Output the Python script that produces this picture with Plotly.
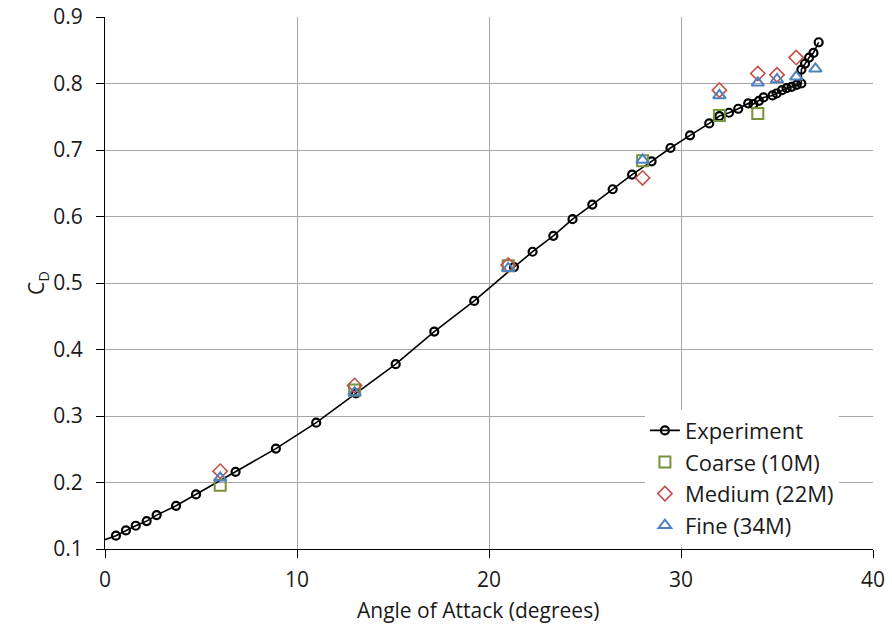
import plotly.graph_objects as go

# Experiment data; the curve starts at AoA 0 (no marker there)
curve_start_aoa = [0.0]
curve_start_cd = [0.114]
exp_aoa = [0.57, 1.09, 1.6, 2.17, 2.69, 3.7, 4.74, 6.8, 8.9, 11.0, 13.07, 15.14, 17.15,
           19.23, 21.3, 22.27, 23.35, 24.35, 25.38, 26.44, 27.45, 28.47, 29.45, 30.47,
           31.47, 32.0, 32.5, 32.98, 33.5, 33.77, 34.06, 34.3, 34.77, 34.98, 35.26,
           35.5, 35.76, 36.02, 36.27, 36.27, 36.46, 36.67, 36.9, 37.17]
exp_cd = [0.12, 0.128, 0.135, 0.142, 0.151, 0.165, 0.182, 0.216, 0.251, 0.29, 0.334,
          0.378, 0.427, 0.473, 0.524, 0.547, 0.571, 0.596, 0.618, 0.641, 0.663, 0.683,
          0.703, 0.722, 0.740, 0.751, 0.756, 0.762, 0.770, 0.769, 0.774, 0.779, 0.782,
          0.785, 0.790, 0.793, 0.795, 0.798, 0.800, 0.821, 0.830, 0.839, 0.846, 0.862]

coarse_aoa = [6, 13, 21, 28, 32, 34]
coarse_cd = [0.196, 0.339, 0.526, 0.684, 0.752, 0.755]

medium_aoa = [6, 13, 21, 28, 32, 34, 35, 36]
medium_cd = [0.217, 0.346, 0.527, 0.658, 0.790, 0.815, 0.813, 0.839]

fine_aoa = [6, 13, 21, 28, 32, 34, 35, 36, 37]
fine_cd = [0.207, 0.335, 0.522, 0.685, 0.782, 0.801, 0.806, 0.810, 0.822]

x_ticks = [0, 10, 20, 30, 40]
y_ticks = [0.1, 0.2, 0.3, 0.4, 0.5, 0.6, 0.7, 0.8, 0.9]

FONT = "Open Sans"
TXT = "#1a1a1a"

fig = go.Figure()
fig.add_trace(go.Scatter(
    x=curve_start_aoa + exp_aoa[:1], y=curve_start_cd + exp_cd[:1], mode="lines",
    line=dict(color="black", width=1.6), showlegend=False, hoverinfo="skip",
))
fig.add_trace(go.Scatter(
    x=exp_aoa, y=exp_cd, mode="lines+markers", name="Experiment",
    line=dict(color="black", width=1.6),
    marker=dict(symbol="circle-open", size=8, color="black", line=dict(width=2.2)),
))
fig.add_trace(go.Scatter(
    x=coarse_aoa, y=coarse_cd, mode="markers", name="Coarse (10M)",
    marker=dict(symbol="square-open", size=11, color="#77933C", line=dict(width=2)),
))
fig.add_trace(go.Scatter(
    x=medium_aoa, y=medium_cd, mode="markers", name="Medium (22M)",
    marker=dict(symbol="diamond-open", size=11, color="#C0504D", line=dict(width=1.6)),
))
fig.add_trace(go.Scatter(
    x=fine_aoa, y=fine_cd, mode="markers", name="Fine (34M)",
    marker=dict(symbol="triangle-up-open", size=11, color="#4F81BD", line=dict(width=2)),
))

fig.update_layout(
    width=892, height=630,
    margin=dict(l=105, r=19, t=17, b=81, autoexpand=False),
    paper_bgcolor="white", plot_bgcolor="white",
    font=dict(family=FONT, size=20, color=TXT),
    showlegend=True,
    legend=dict(
        x=0.703, y=0.262, xanchor="left", yanchor="top",
        bgcolor="white", borderwidth=0,
        font=dict(family=FONT, size=22, color=TXT),
        tracegroupgap=0, itemwidth=30,
    ),
    annotations=[dict(
        text="Angle of Attack (degrees)", xref="paper", yref="paper",
        x=0.486, y=-0.115, xanchor="center", yanchor="middle", showarrow=False,
        font=dict(family=FONT, size=21, color=TXT),
    )],
)
fig.update_xaxes(
    range=[0, 40], tickvals=x_ticks, ticktext=[str(v) for v in x_ticks],
    showgrid=True, gridcolor="#A6A6A6", gridwidth=1,
    showline=True, linecolor="black", linewidth=1.2,
    ticks="outside", ticklen=8, tickcolor="black",
    zeroline=False, automargin=False, ticklabelstandoff=4,
    tickfont=dict(family=FONT, size=21, color=TXT),
)
fig.update_yaxes(
    range=[0.1, 0.9], tickvals=y_ticks, ticktext=[f"{v:.1f}" for v in y_ticks],
    showgrid=True, gridcolor="#A6A6A6", gridwidth=1,
    showline=True, linecolor="black", linewidth=1.2,
    ticks="outside", ticklen=8, tickcolor="black",
    zeroline=False, automargin=False, ticklabelstandoff=9,
    tickfont=dict(family=FONT, size=21, color=TXT),
    title=dict(text="C<sub>D</sub>", font=dict(family=FONT, size=21, color=TXT), standoff=2),
)

fig.write_html("out.html", config={"displayModeBar": False},
               post_script="document.body.style.margin='0';")
